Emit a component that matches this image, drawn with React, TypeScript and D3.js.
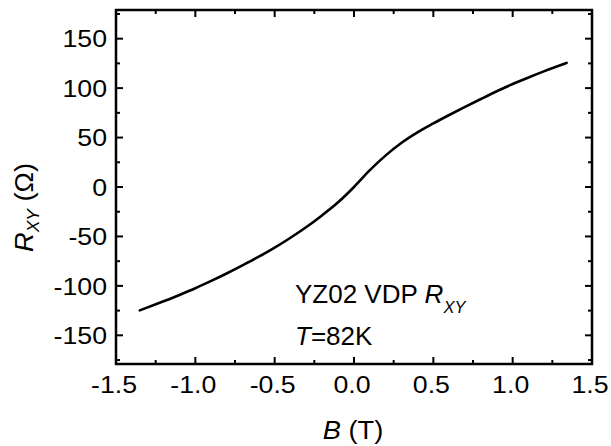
import React from "react";
import * as d3 from "d3";

const fieldB = [-1.35, -1.2, -1.1, -1.0, -0.9, -0.8, -0.7, -0.6, -0.5, -0.4, -0.3, -0.2, -0.1, 0.0, 0.1, 0.2, 0.3, 0.4, 0.5, 0.6, 0.7, 0.8, 0.9, 1.0, 1.1, 1.2, 1.34];
const rxy = [-124.8, -115.6, -109.2, -102.4, -95, -87.2, -79, -70.5, -61.3, -51.3, -40.5, -28.5, -15.5, 0, 17, 32, 44.8, 55.3, 64.3, 72.8, 81, 89, 96.8, 104.1, 110.8, 117.2, 125.5];

const xMajor = [-1.5, -1.0, -0.5, 0.0, 0.5, 1.0, 1.5];
const xMinor = [-1.25, -0.75, -0.25, 0.25, 0.75, 1.25];
const yMajor = [-150, -100, -50, 0, 50, 100, 150];
const yMinor = [-175, -125, -75, -25, 25, 75, 125, 175];

const W = 611, H = 446;
const L = 116, R = 592, T = 10, B = 364;

export default function App() {
  const x = d3.scaleLinear().domain([-1.5, 1.5]).range([L, R]);
  const y = d3.scaleLinear().domain([-179, 179]).range([B, T]);
  const pts = fieldB.map((b, i) => [b, rxy[i]] as [number, number]);
  const line = d3.line<[number, number]>().x(d => x(d[0])).y(d => y(d[1])).curve(d3.curveMonotoneX);
  const font = "'Liberation Sans', Arial, sans-serif";
  const maj = 7, mnr = 4;
  const sx = 1.09;
  return (
    <svg width={W} height={H} style={{ position: "absolute", left: 0, top: 0, background: "#fff" }} fontFamily={font}>
      <rect x={0} y={0} width={W} height={H} fill="#fff" />
      <path d={line(pts) || ""} fill="none" stroke="#000" strokeWidth={2.6} strokeLinejoin="round" strokeLinecap="round" />
      <g stroke="#000" strokeWidth={2}>
        {xMajor.map(v => (
          <g key={"xm" + v}>
            <line x1={x(v)} x2={x(v)} y1={B} y2={B - maj} />
            <line x1={x(v)} x2={x(v)} y1={T} y2={T + maj} />
          </g>
        ))}
        {xMinor.map(v => (
          <g key={"xn" + v}>
            <line x1={x(v)} x2={x(v)} y1={B} y2={B - mnr} />
            <line x1={x(v)} x2={x(v)} y1={T} y2={T + mnr} />
          </g>
        ))}
        {yMajor.map(v => (
          <g key={"ym" + v}>
            <line x1={L} x2={L + maj} y1={y(v)} y2={y(v)} />
            <line x1={R} x2={R - maj} y1={y(v)} y2={y(v)} />
          </g>
        ))}
        {yMinor.map(v => (
          <g key={"yn" + v}>
            <line x1={L} x2={L + mnr} y1={y(v)} y2={y(v)} />
            <line x1={R} x2={R - mnr} y1={y(v)} y2={y(v)} />
          </g>
        ))}
      </g>
      <rect x={L} y={T} width={R - L} height={B - T} fill="none" stroke="#000" strokeWidth={2.5} />
      <g fontSize={24.5} fill="#000">
        {xMajor.map(v => (
          <text key={"xl" + v} transform={`translate(${x(v) - 2},393) scale(${sx},1)`} textAnchor="middle">{d3.format(".1f")(v).replace("−", "-")}</text>
        ))}
        {yMajor.map(v => (
          <text key={"yl" + v} transform={`translate(107,${y(v) + 8.8}) scale(${sx},1)`} textAnchor="end">{String(v)}</text>
        ))}
      </g>
      <text transform={`translate(353,439) scale(${sx},1)`} fontSize={25} textAnchor="middle" fill="#000">
        <tspan fontStyle="italic">B</tspan> (T)
      </text>
      <text transform={`translate(33,252) rotate(-90) scale(${sx},1)`} fontSize={25} fill="#000">
        <tspan fontStyle="italic">R</tspan>
        <tspan fontStyle="italic" fontSize={16} dy={6}>XY</tspan>
        <tspan dy={-6}> (Ω)</tspan>
      </text>
      <text x={295} y={303} fontSize={26} fill="#000">
        YZ02 VDP <tspan fontStyle="italic">R</tspan>
        <tspan fontStyle="italic" fontSize={16.5} dy={10}>XY</tspan>
      </text>
      <text x={295} y={345} fontSize={26} fill="#000">
        <tspan fontStyle="italic">T</tspan>=82K
      </text>
    </svg>
  );
}
